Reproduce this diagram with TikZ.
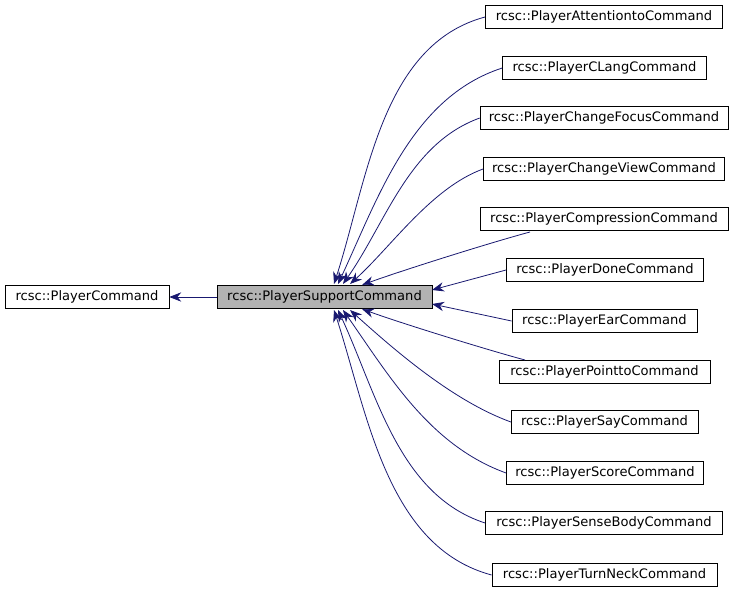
\documentclass[tikz,border=0pt]{standalone}
\usepackage{fontspec}
\setmainfont{DejaVu Sans}
\usetikzlibrary{arrows.meta}
\definecolor{edgeblue}{RGB}{25,25,112}
\begin{document}
\begin{tikzpicture}[x=0.75pt, y=-0.75pt, font=\fontsize{9.8pt}{11pt}\selectfont,
    cls/.style={rectangle, draw, minimum height=17.5pt, inner sep=1pt},
    inh/.style={edgeblue, semithick, -{Stealth[length=9pt, width=7pt]}}]

    \useasboundingbox (0,0) rectangle (736,595);

    \node[cls, minimum width=123pt] (base) at (87,297) {rcsc::PlayerCommand};
    \node[cls, minimum width=161pt, fill=black!30] (sup) at (324.5,297) {rcsc::PlayerSupportCommand};

    % derived classes
    \node[cls, minimum width=178pt] (c1) at (604,17) {rcsc::PlayerAttentiontoCommand};
    \node[cls, minimum width=153pt] (c2) at (604.5,68) {rcsc::PlayerCLangCommand};
    \node[cls, minimum width=186pt] (c3) at (604,118) {rcsc::PlayerChangeFocusCommand};
    \node[cls, minimum width=181pt] (c4) at (604,169) {rcsc::PlayerChangeViewCommand};
    \node[cls, minimum width=186pt] (c5) at (604,219) {rcsc::PlayerCompressionCommand};
    \node[cls, minimum width=148pt] (c6) at (605,270) {rcsc::PlayerDoneCommand};
    \node[cls, minimum width=139pt] (c7) at (604.5,321) {rcsc::PlayerEarCommand};
    \node[cls, minimum width=158pt] (c8) at (604.5,372) {rcsc::PlayerPointtoCommand};
    \node[cls, minimum width=140pt] (c9) at (604.5,422) {rcsc::PlayerSayCommand};
    \node[cls, minimum width=148pt] (c10) at (605,473) {rcsc::PlayerScoreCommand};
    \node[cls, minimum width=178pt] (c11) at (604,523) {rcsc::PlayerSenseBodyCommand};
    \node[cls, minimum width=169pt] (c12) at (604.5,575) {rcsc::PlayerTurnNeckCommand};

    \coordinate (t1) at (334,284);
    \coordinate (t2) at (338,284);
    \coordinate (t3) at (343,284);
    \coordinate (t4) at (350,284);
    \coordinate (t5) at (362,285);
    \coordinate (t6) at (432,290);
    \coordinate (t7) at (432,304);
    \coordinate (t8) at (362,309);
    \coordinate (t9) at (350,310);
    \coordinate (t10) at (343,310);
    \coordinate (t11) at (338,310);
    \coordinate (t12) at (334,310);
    \coordinate (s5) at (530,232);
    \coordinate (s8) at (525,360);

    \draw[inh] (sup) -- (base);
    \draw[inh] (c1.west) to[out=195, in=72, looseness=0.9] (t1);
    \draw[inh] (c2.west) to[out=198, in=65, looseness=0.9] (t2);
    \draw[inh] (c3.west) to[out=200, in=55, looseness=0.9] (t3);
    \draw[inh] (c4.west) to[out=200, in=42, looseness=0.8] (t4);
    \draw[inh] (s5) to[out=195, in=20, looseness=0.6] (t5);
    \draw[inh] (c6.west) -- (t6);
    \draw[inh] (c7.west) -- (t7);
    \draw[inh] (s8) to[out=165, in=-20, looseness=0.6] (t8);
    \draw[inh] (c9.west) to[out=160, in=-42, looseness=0.8] (t9);
    \draw[inh] (c10.west) to[out=160, in=-55, looseness=0.9] (t10);
    \draw[inh] (c11.west) to[out=162, in=-65, looseness=0.9] (t11);
    \draw[inh] (c12.west) to[out=165, in=-72, looseness=0.9] (t12);
\end{tikzpicture}
\end{document}
